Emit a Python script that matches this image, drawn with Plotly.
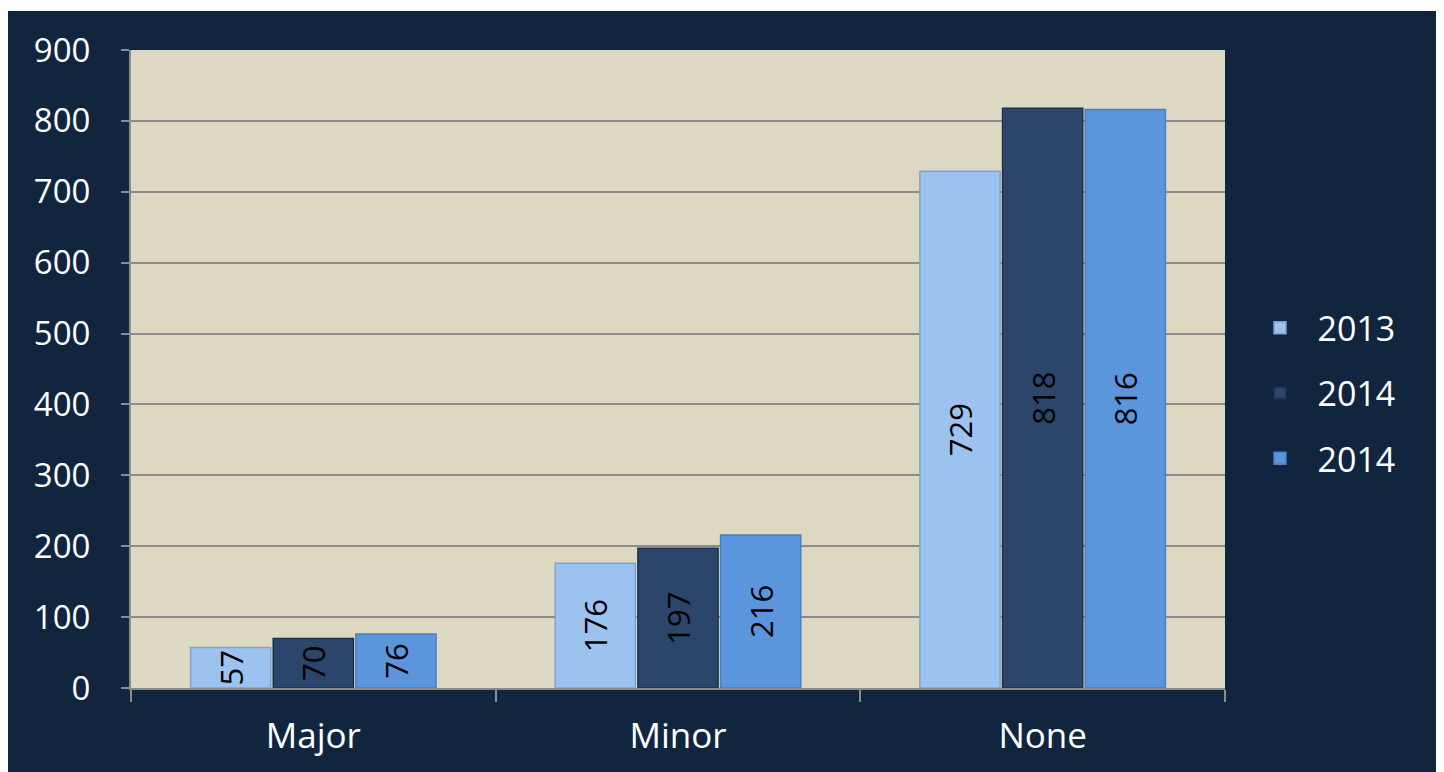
import plotly.graph_objects as go

categories = ["Major", "Minor", "None"]
series_names = ["2013", "2014", "2014"]
values_2013 = [57, 176, 729]
values_2014a = [70, 197, 818]
values_2014b = [76, 216, 816]
y_ticks = [0, 100, 200, 300, 400, 500, 600, 700, 800, 900]

colors = ["#9cc2ef", "#2b466a", "#5b95dc"]
line_colors = ["#7ea3cf", "#1c3150", "#4a7fc0"]
all_values = [values_2013, values_2014a, values_2014b]

NAVY = "#11253f"
FONT = "Open Sans"

fig = go.Figure()
for i, (name, vals) in enumerate(zip(series_names, all_values)):
    fig.add_trace(go.Bar(
        x=categories, y=vals, name=name,
        legendgroup="g%d" % i,
        marker=dict(color=colors[i], line=dict(color=line_colors[i], width=1.5)),
        text=[str(v) for v in vals],
        textposition="inside", insidetextanchor="middle",
        textangle=-90, constraintext="none",
        textfont=dict(family=FONT, size=31, color="black"),
        hoverinfo="x+y+name",
    ))

fig.update_layout(
    width=1434, height=772,
    margin=dict(l=123, r=217, t=42, b=92),
    paper_bgcolor=NAVY,
    plot_bgcolor="#ddd8c2",
    barmode="group", bargap=0.32, bargroupgap=0.03,
    font=dict(family=FONT, color="white", size=31),
    legend=dict(x=1.016, y=0.462, xanchor="left", yanchor="middle",
                font=dict(family=FONT, size=34, color="white"),
                itemwidth=65,
                tracegroupgap=18, bgcolor="rgba(0,0,0,0)"),
    xaxis=dict(showline=True, linecolor="#8c8c8c", linewidth=2,
               ticks="outside", tickson="boundaries", ticklen=12,
               tickcolor="#8c8c8c", tickwidth=2, showgrid=False,
               tickfont=dict(family=FONT, size=35, color="white"),
               ticklabelstandoff=16),
    yaxis=dict(range=[0, 900], tickvals=y_ticks, showline=True,
               linecolor="#8c8c8c", linewidth=2, ticks="outside",
               ticklen=8, tickcolor="#8c8c8c", tickwidth=2,
               showgrid=True, gridcolor="#8c8c8c", gridwidth=1.5,
               zeroline=False,
               tickfont=dict(family=FONT, size=33, color="white"),
               ticklabelstandoff=24),
    shapes=[
        dict(type="rect", xref="paper", yref="paper", layer="below",
             x0=-0.2, x1=1.3, y0=1.0611, y1=1.08, fillcolor="white", line=dict(width=0)),
    ],
)

fig.write_html("out.html")
